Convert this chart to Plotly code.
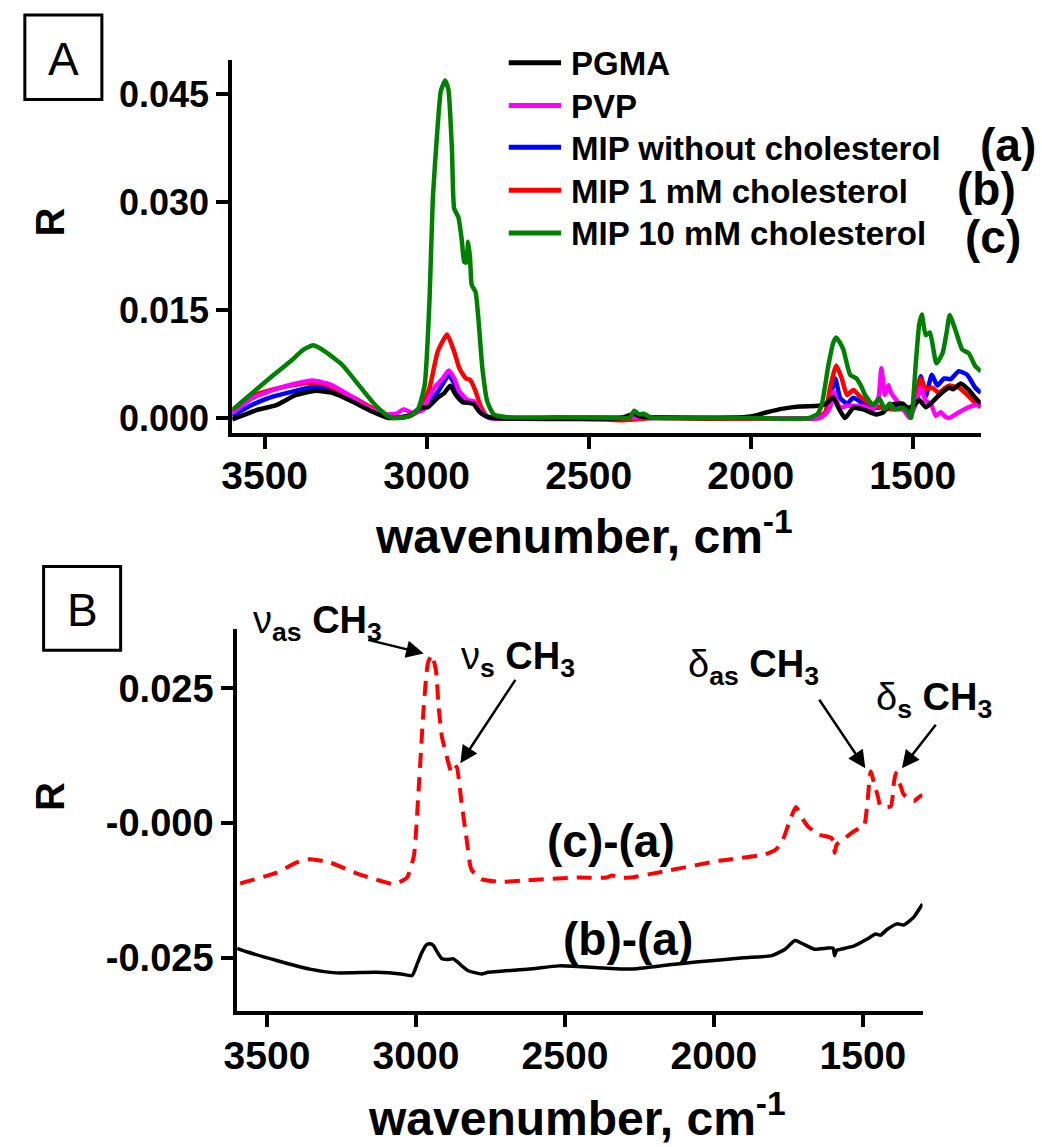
import plotly.graph_objects as go

# ---------------- Panel A data (wavenumber, R) ----------------
pgma_wn = [3600, 3525, 3464, 3403, 3342, 3291, 3230, 3169, 3118, 3057, 3017, 2996, 2966, 2945, 2927, 2910,
           2889, 2869, 2854, 2838, 2813, 2790, 2400, 2360, 2340, 2100, 2000, 1950, 1900, 1850, 1790, 1770,
           1755, 1746, 1729, 1709, 1683, 1653, 1613, 1590, 1571, 1531, 1515, 1495, 1480, 1460, 1440, 1418,
           1388, 1375, 1352, 1327, 1307, 1290]
pgma_r = [-0.0002, 0.0011, 0.0018, 0.0032, 0.0038, 0.0035, 0.0023, 0.0009, 0.0, 0.0003, 0.0014, 0.0015,
          0.0028, 0.0035, 0.0045, 0.0032, 0.0022, 0.0021, 0.0019, 0.0009, 0.0002, 0.0, 0.0, 0.0006, 0.0002,
          0.0, 0.0002, 0.0008, 0.0013, 0.0016, 0.0017, 0.0019, 0.0025, 0.0029, 0.0014, 0.0, 0.0014, 0.0012,
          0.0005, 0.0008, 0.0018, 0.0020, 0.0014, 0.0018, 0.0025, 0.0015, 0.0022, 0.0032, 0.0042, 0.0040,
          0.0048, 0.0039, 0.0028, 0.0020]

pvp_wn = [3600, 3540, 3515, 3454, 3403, 3352, 3301, 3240, 3179, 3128, 3093, 3072, 3042, 3011, 3000, 2976,
          2950, 2932, 2915, 2899, 2874, 2854, 2833, 2803, 2500, 2000, 1790, 1770, 1755, 1744, 1735, 1724,
          1703, 1683, 1653, 1622, 1605, 1597, 1590, 1586, 1575, 1567, 1556, 1531, 1510, 1490, 1475, 1460,
          1444, 1429, 1413, 1400, 1388, 1357, 1332, 1307, 1290]
pvp_r = [0.0007, 0.0027, 0.0032, 0.0042, 0.0048, 0.0052, 0.0047, 0.0032, 0.0014, 0.0005, 0.0006, 0.0012,
         0.0007, 0.0011, 0.0022, 0.0042, 0.0055, 0.0066, 0.0055, 0.0037, 0.0025, 0.0023, 0.0009, 0.0, 0.0001,
         0.0, 0.0, 0.0005, 0.0015, 0.0037, 0.0025, 0.0014, 0.0017, 0.0017, 0.0016, 0.0012, 0.0030, 0.0069,
         0.0045, 0.0032, 0.0046, 0.0035, 0.0028, 0.0014, 0.0, 0.0020, 0.0042, 0.0024, 0.0020, 0.0003, 0.0008,
         0.0002, 0.0, 0.0008, 0.0014, 0.0018, 0.0019]

mip0_wn = [3600, 3540, 3480, 3420, 3352, 3300, 3240, 3180, 3128, 3090, 3050, 3017, 2991, 2966, 2940, 2932,
           2915, 2899, 2874, 2854, 2833, 2803, 2500, 2000, 1790, 1770, 1755, 1739, 1724, 1703, 1683, 1653,
           1613, 1571, 1530, 1510, 1490, 1475, 1460, 1441, 1424, 1403, 1383, 1358, 1332, 1307, 1290]
mip0_r = [0.0003, 0.0018, 0.0029, 0.0036, 0.0043, 0.0040, 0.0028, 0.0013, 0.0003, 0.0, 0.0004, 0.0012,
          0.0024, 0.0036, 0.0055, 0.0060, 0.0048, 0.0032, 0.0023, 0.0020, 0.0007, 0.0, 0.0, 0.0, 0.0, 0.0006,
          0.0028, 0.0055, 0.0028, 0.0020, 0.0028, 0.0020, 0.0014, 0.0016, 0.0014, 0.0005, 0.0030, 0.0058,
          0.0030, 0.0060, 0.0045, 0.0055, 0.0054, 0.0065, 0.0060, 0.0042, 0.0035]

mip1_wn = [3600, 3540, 3480, 3420, 3360, 3320, 3260, 3200, 3150, 3110, 3080, 3050, 3017, 2991, 2966, 2937,
           2915, 2899, 2879, 2866, 2849, 2833, 2813, 2780, 2600, 2450, 2400, 2300, 2100, 1900, 1800, 1770,
           1755, 1736, 1719, 1703, 1683, 1663, 1633, 1600, 1560, 1530, 1510, 1490, 1475, 1460, 1440, 1420,
           1400, 1388, 1357, 1327, 1307, 1290]
mip1_r = [0.0008, 0.0030, 0.0039, 0.0045, 0.0049, 0.0047, 0.0036, 0.0022, 0.0009, 0.0002, 0.0001, 0.0003,
          0.0014, 0.0042, 0.0092, 0.0116, 0.0092, 0.0069, 0.0055, 0.0053, 0.0037, 0.0016, 0.0002, 0.0, 0.0,
          -0.0002, -0.0003, 0.0, -0.0001, -0.0001, 0.0, 0.0008, 0.0042, 0.0073, 0.0055, 0.0032, 0.0039,
          0.0030, 0.0020, 0.0015, 0.0012, 0.0012, 0.0003, 0.0030, 0.0055, 0.0040, 0.0042, 0.0035, 0.0042,
          0.0045, 0.0042, 0.0030, 0.0021, 0.0015]

mip10_wn = [3600, 3540, 3480, 3420, 3380, 3350, 3312, 3261, 3210, 3159, 3118, 3098, 3057, 3027, 3006, 2991,
            2981, 2966, 2956, 2943, 2933, 2922, 2915, 2902, 2892, 2884, 2878, 2872, 2866, 2861, 2849, 2838,
            2828, 2813, 2793, 2752, 2600, 2400, 2375, 2359, 2345, 2330, 2310, 2200, 2000, 1900, 1820, 1795,
            1781, 1760, 1745, 1736, 1725, 1714, 1693, 1674, 1660, 1647, 1622, 1603, 1586, 1571, 1556, 1531,
            1515, 1505, 1490, 1480, 1472, 1460, 1447, 1427, 1408, 1395, 1386, 1368, 1347, 1327, 1307, 1290]
mip10_r = [0.0011, 0.0034, 0.0057, 0.0079, 0.0095, 0.0101, 0.0092, 0.0074, 0.0046, 0.0018, 0.0002, 0.0,
           0.0002, 0.0012, 0.0046, 0.0166, 0.0305, 0.0406, 0.0455, 0.0469, 0.0457, 0.0374, 0.0291, 0.0279,
           0.0249, 0.0217, 0.0216, 0.0245, 0.0222, 0.0185, 0.0175, 0.0125, 0.0069, 0.0023, 0.0005, 0.0001,
           0.0001, 0.0, 0.0, 0.0010, 0.0005, 0.0006, 0.0001, 0.0, 0.0, -0.0001, 0.0, 0.0005, 0.0018, 0.0074,
           0.0105, 0.0112, 0.0105, 0.0095, 0.0060, 0.0055, 0.0045, 0.0032, 0.0018, 0.0027, 0.0012, 0.0020,
           0.0012, 0.0014, 0.0008, 0.0, 0.0079, 0.0130, 0.0144, 0.0115, 0.0119, 0.0076, 0.0090, 0.0120,
           0.0143, 0.0122, 0.0095, 0.0090, 0.0072, 0.0065]

# ---------------- Panel B data (difference spectra) ----------------
ca_wn = [3590, 3578, 3467, 3400, 3356, 3290, 3190, 3120, 3079, 3050, 3030, 3007, 2991, 2974, 2960, 2947,
         2933, 2924, 2913, 2897, 2880, 2868, 2863, 2847, 2830, 2814, 2780, 2714, 2625, 2460, 2360, 2341,
         2320, 2281, 2162, 1983, 1828, 1790, 1768, 1745, 1725, 1700, 1685, 1649, 1607, 1598, 1595, 1588,
         1565, 1530, 1506, 1496, 1485, 1474, 1463, 1450, 1441, 1407, 1396, 1390, 1374, 1363, 1330, 1308, 1300]
ca_r = [-0.0112, -0.0110, -0.0092, -0.0073, -0.0067, -0.0073, -0.0095, -0.0107, -0.0113, -0.0108, -0.0101,
        -0.0061, 0.0062, 0.0216, 0.0297, 0.0312, 0.0284, 0.0216, 0.0161, 0.0124, 0.0093, 0.0102, 0.0105,
        0.0038, -0.0030, -0.0086, -0.0104, -0.0109, -0.0106, -0.0101, -0.0101, -0.0097, -0.0101, -0.0101,
        -0.0089, -0.0070, -0.0058, -0.0048, -0.0030, 0.0005, 0.0030, 0.0006, -0.0006, -0.0021, -0.0027,
        -0.0035, -0.0055, -0.0040, -0.0030, -0.0015, -0.0008, -0.0006, 0.0038, 0.0096, 0.0075, 0.0050,
        0.0031, 0.0031, 0.0075, 0.0093, 0.0070, 0.0053, 0.0041, 0.0050, 0.0052]

ba_wn = [3600, 3594, 3467, 3356, 3267, 3135, 3050, 3013, 2995, 2980, 2965, 2952, 2940, 2930, 2913, 2895,
         2874, 2860, 2840, 2825, 2780, 2758, 2620, 2520, 2400, 2281, 2150, 2061, 1900, 1806, 1761, 1728,
         1695, 1662, 1618, 1600, 1595, 1588, 1573, 1529, 1485, 1457, 1441, 1418, 1385, 1363, 1330, 1308, 1300]
ba_r = [-0.0232, -0.0234, -0.0255, -0.0271, -0.0278, -0.0277, -0.0280, -0.0283, -0.0260, -0.0240, -0.0226,
        -0.0224, -0.0228, -0.0238, -0.0252, -0.0253, -0.0252, -0.0258, -0.0268, -0.0274, -0.0280, -0.0277,
        -0.0271, -0.0265, -0.0268, -0.0271, -0.0263, -0.0258, -0.0250, -0.0246, -0.0234, -0.0218, -0.0226,
        -0.0234, -0.0232, -0.0232, -0.0246, -0.0236, -0.0234, -0.0228, -0.0215, -0.0206, -0.0208, -0.0197,
        -0.0187, -0.0189, -0.0175, -0.0157, -0.0150]

legend_names = ["PGMA", "PVP", "MIP without cholesterol", "MIP 1 mM cholesterol", "MIP 10 mM cholesterol"]
legend_tags = ["", "", "(a)", "(b)", "(c)"]
colors = ["#000000", "#ff00ff", "#0000ff", "#ff0000", "#008000"]

xticks = [3500, 3000, 2500, 2000, 1500]
a_yticks = [0.0, 0.015, 0.030, 0.045]
a_yticktext = ["0.000", "0.015", "0.030", "0.045"]
b_yticks = [-0.025, 0.0, 0.025]
b_yticktext = ["-0.025", "-0.000", "0.025"]

W, H = 1042, 1147
FONT = "Liberation Sans, Arial, sans-serif"


def P(px, py):
    return px / W, 1 - py / H


fig = go.Figure()

series_a = {
    "PGMA": (pgma_wn, pgma_r, colors[0]),
    "PVP": (pvp_wn, pvp_r, colors[1]),
    "MIP without cholesterol": (mip0_wn, mip0_r, colors[2]),
    "MIP 1 mM cholesterol": (mip1_wn, mip1_r, colors[3]),
    "MIP 10 mM cholesterol": (mip10_wn, mip10_r, colors[4]),
}
draw_order = ["MIP without cholesterol", "MIP 1 mM cholesterol", "PVP", "PGMA", "MIP 10 mM cholesterol"]
for name in draw_order:
    wn, r, c = series_a[name]
    fig.add_trace(go.Scatter(x=wn, y=r, mode="lines", name=name,
                             line=dict(color=c, width=4.5, shape="spline", smoothing=0.5),
                             xaxis="x", yaxis="y", showlegend=False))

fig.add_trace(go.Scatter(x=ba_wn, y=ba_r, mode="lines", name="(b)-(a)",
                         line=dict(color="black", width=3.5, shape="spline", smoothing=0.5),
                         xaxis="x2", yaxis="y2", showlegend=False))
fig.add_trace(go.Scatter(x=ca_wn, y=ca_r, mode="lines", name="(c)-(a)",
                         line=dict(color="red", width=4, dash="15px,9px", shape="spline", smoothing=0.5),
                         xaxis="x2", yaxis="y2", showlegend=False))

axis_common = dict(showline=True, linecolor="black", linewidth=4, ticks="outside", ticklen=12,
                   tickwidth=4, tickcolor="black", showgrid=False, zeroline=False, mirror=False)

fig.update_layout(
    width=W, height=H, margin=dict(l=0, r=0, t=0, b=0),
    paper_bgcolor="white", plot_bgcolor="white", showlegend=False,
    xaxis=dict(domain=[222 / W, 980 / W], range=[3600, 1290], anchor="y", tickvals=xticks,
               ticklabelstandoff=-7,
               tickfont=dict(family=FONT, size=39, color="black", weight="bold"), **axis_common),
    yaxis=dict(domain=[1 - 435 / H, 1 - 60 / H], range=[-0.0021, 0.0498], anchor="x",
               tickvals=a_yticks, ticktext=a_yticktext,
               tickfont=dict(family=FONT, size=36, color="black", weight="bold"), **axis_common),
    xaxis2=dict(domain=[227 / W, 921 / W], range=[3600, 1300], anchor="y2", tickvals=xticks,
                ticklabelstandoff=-4,
                tickfont=dict(family=FONT, size=39, color="black", weight="bold"), **axis_common),
    yaxis2=dict(domain=[1 - 1015 / H, 1 - 632 / H], range=[-0.0348, 0.0360], anchor="x2",
                tickvals=b_yticks, ticktext=b_yticktext,
                tickfont=dict(family=FONT, size=38, color="black", weight="bold"), **axis_common),
)

ann = []
shapes = []


def text_at(cx, cy, text, size, xanchor="center", yanchor="middle", angle=0):
    x, y = P(cx, cy)
    ann.append(dict(x=x, y=y, xref="paper", yref="paper", xanchor=xanchor, yanchor=yanchor,
                    text=text, textangle=angle, showarrow=False,
                    font=dict(family=FONT, size=size, color="black")))


# axis titles
text_at(578, 535, "<b>wavenumber, cm<sup>-1</sup></b>", 48)
text_at(571, 1120, "<b>wavenumber, cm<sup>-1</sup></b>", 48)
text_at(37, 223, "<b>R</b>", 40, angle=-90)
text_at(37, 800, "<b>R</b>", 40, angle=-90)

# panel letters with boxes
for letter, (x0, y0, x1, y1) in [("A", (12, 15, 90, 100)), ("B", (31, 569, 109, 653))]:
    a0, b0 = P(x0, y0)
    a1, b1 = P(x1, y1)
    shapes.append(dict(type="rect", xref="paper", yref="paper", x0=a0, x1=a1, y0=b1, y1=b0,
                       line=dict(color="black", width=3)))
    text_at((x0 + x1) / 2, (y0 + y1) / 2 + 2, letter, 46)

# manual legend
leg_y = [63, 106, 148, 191, 234]
tag_pos = [None, None, (1008, 146), (986, 190), (992, 238)]
for i, name in enumerate(legend_names):
    xa, ya = P(502, leg_y[i])
    xb, _ = P(555, leg_y[i])
    shapes.append(dict(type="line", xref="paper", yref="paper", x0=xa, x1=xb, y0=ya, y1=ya,
                       line=dict(color=colors[i], width=5)))
    text_at(563, leg_y[i] + 1, "<b>%s</b>" % name, 33, xanchor="left")
    if legend_tags[i]:
        text_at(tag_pos[i][0], tag_pos[i][1], "<b>%s</b>" % legend_tags[i], 46)

# panel B curve labels
text_at(606, 845, "<b>(c)-(a)</b>", 46)
text_at(623, 943, "<b>(b)-(a)</b>", 46)

# vibration labels
labels = [
    ("\u03bd<sub><b>as</b></sub> <b>CH<sub>3</sub></b>", (241, 626)),
    ("\u03bd<sub><b>s</b></sub> <b>CH<sub>3</sub></b>", (452, 662)),
    ("\u03b4<sub><b>as</b></sub> <b>CH<sub>3</sub></b>", (682, 670)),
    ("\u03b4<sub><b>s</b></sub> <b>CH<sub>3</sub></b>", (872, 703)),
]
for txt, (lx, ly) in labels:
    text_at(lx, ly, txt, 38, xanchor="left")

# arrows (head at spectral feature, tail offset in pixels)
arrows = [(2974, 0.0315, -57, -14), (2851, 0.0111, 56, -85), (1492, 0.0102, -47, -70), (1369, 0.0102, 35, -45)]
for (wx, vy, dx, dy) in arrows:
    ann.append(dict(x=wx, y=vy, xref="x2", yref="y2", ax=dx, ay=dy, axref="pixel", ayref="pixel",
                    showarrow=True, arrowhead=2, arrowsize=1.4, arrowwidth=2.5, arrowcolor="black",
                    standoff=0, text=""))

fig.update_layout(annotations=ann, shapes=shapes)
fig.write_html("out.html", config={"displayModeBar": False},
               post_script="document.body.style.margin='0';document.body.style.overflow='hidden';")
